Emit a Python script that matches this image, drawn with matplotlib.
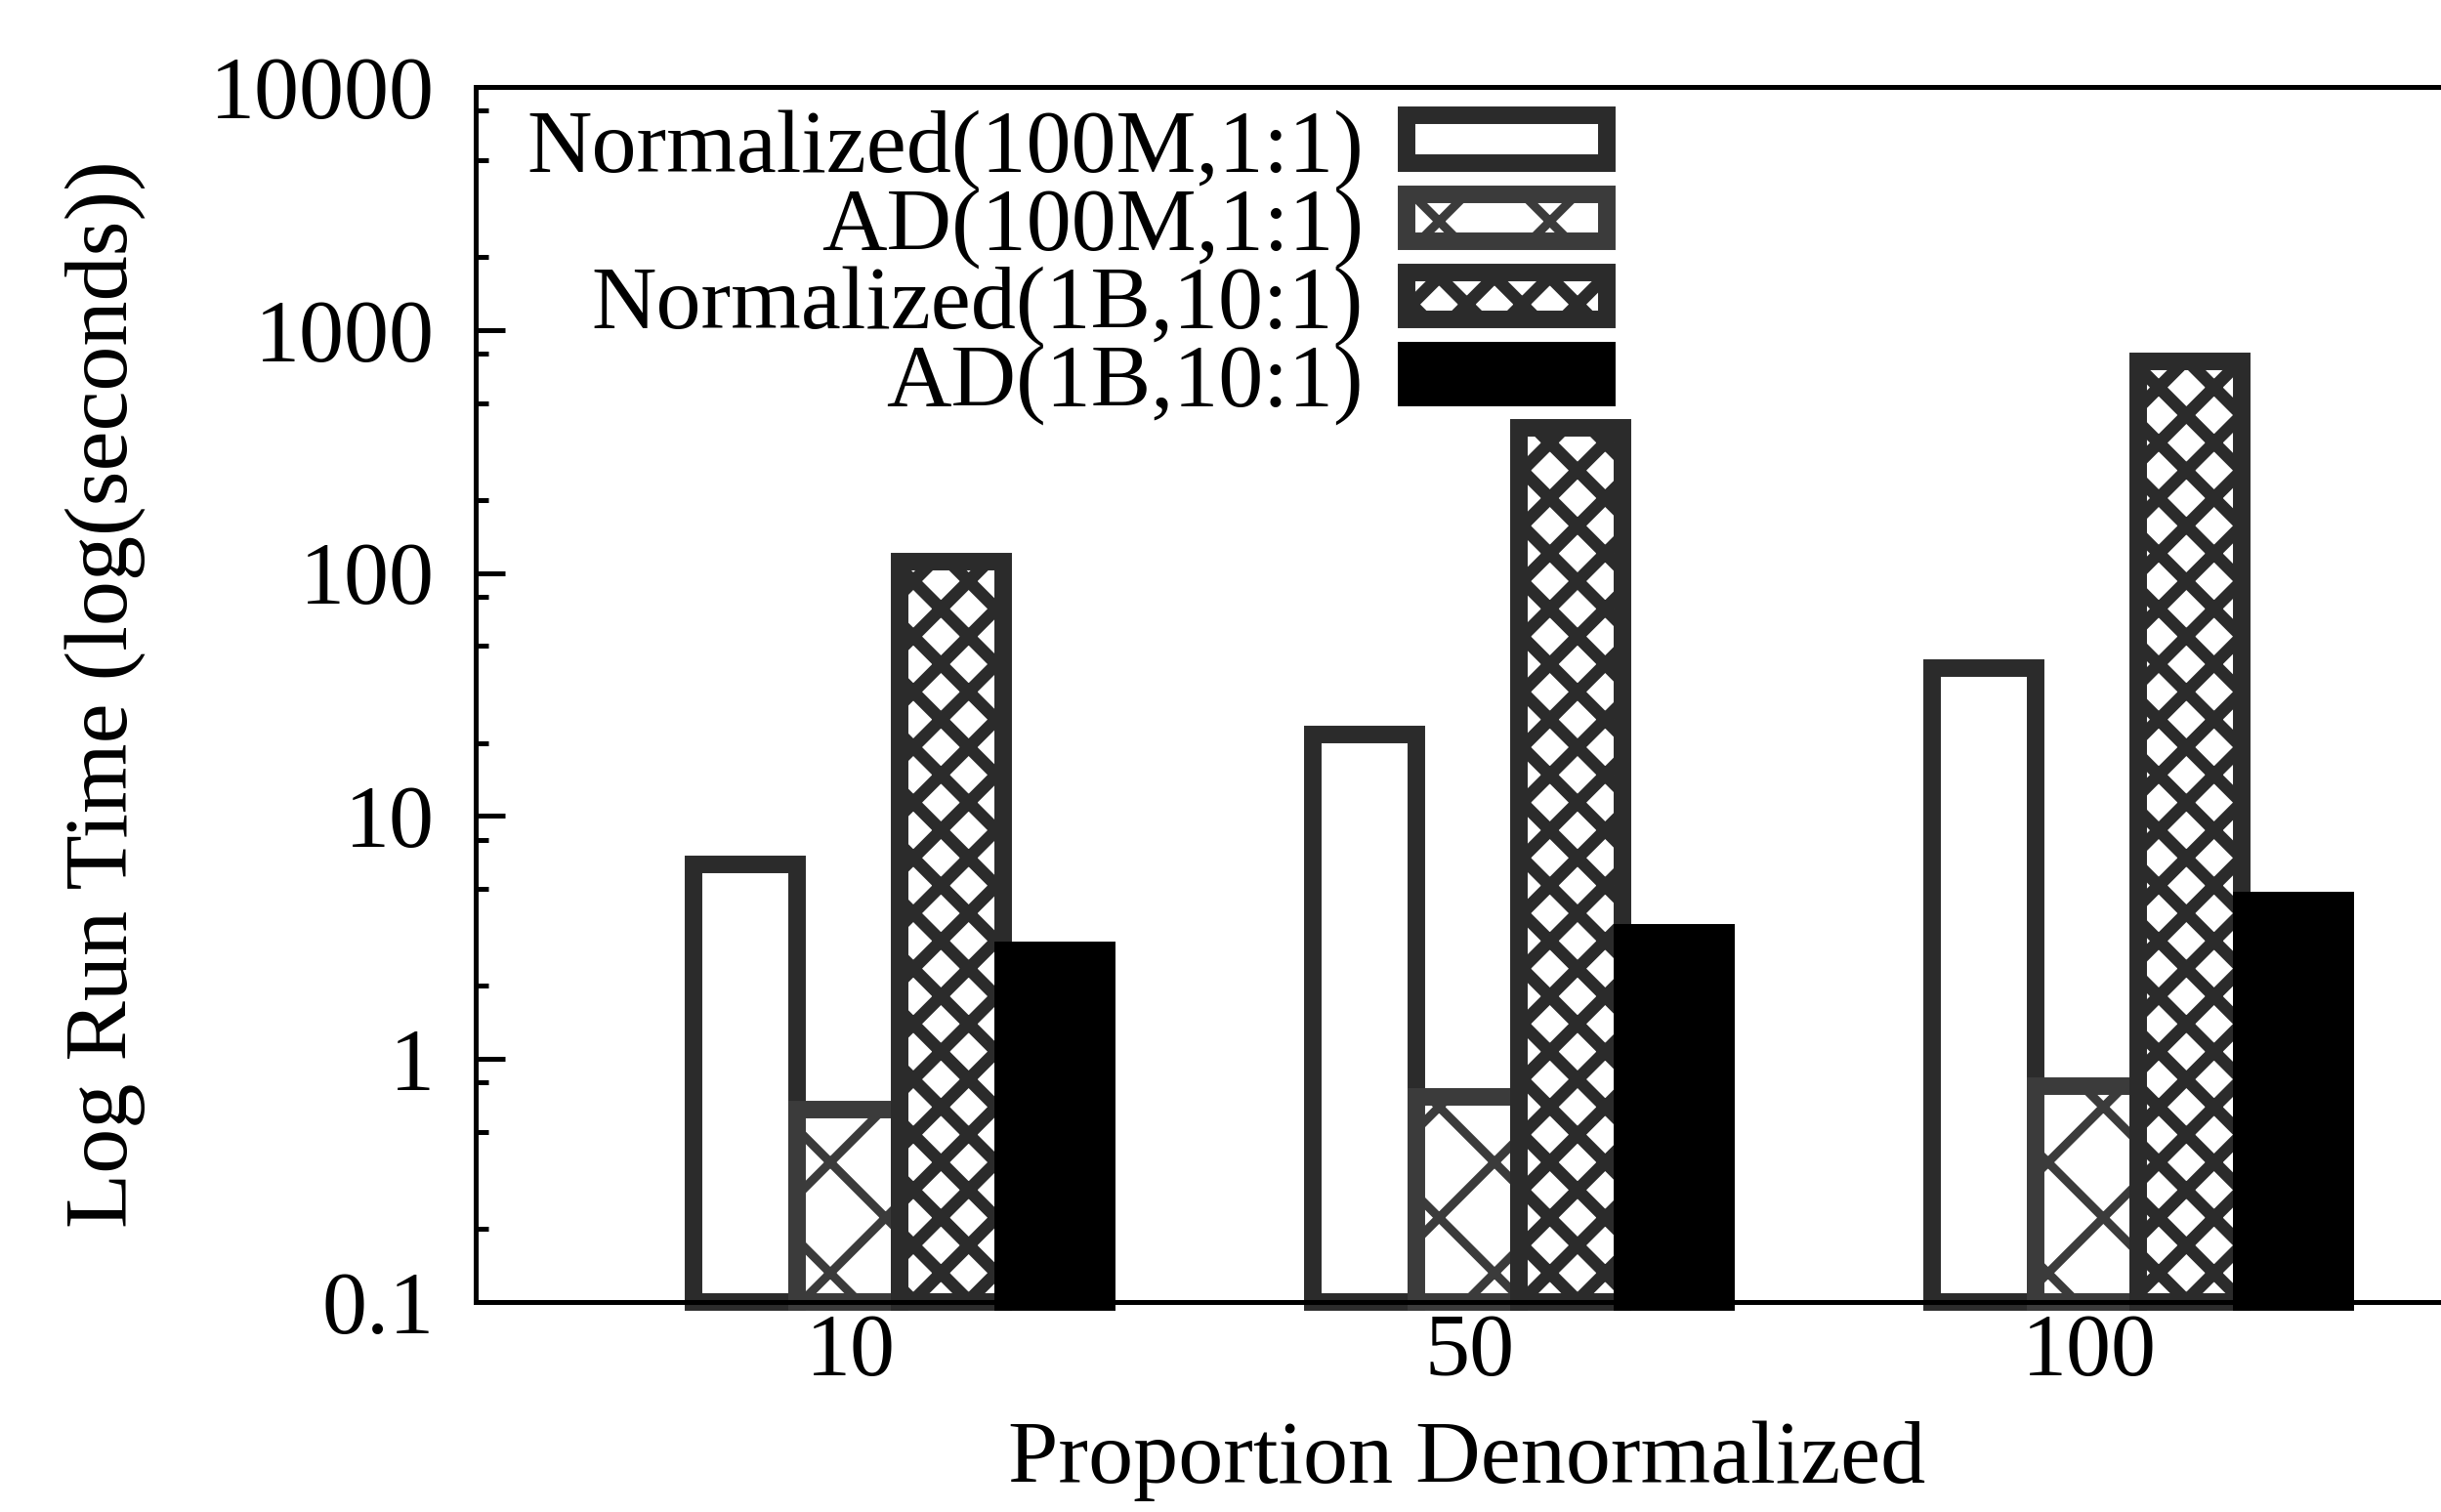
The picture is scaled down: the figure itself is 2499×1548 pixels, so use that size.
import matplotlib
matplotlib.use("Agg")
import matplotlib.pyplot as plt
import numpy as np
from matplotlib.ticker import FixedLocator, NullFormatter

# ---- data ----
groups = ["10", "50", "100"]
series_names = ["Normalized(100M,1:1)", "AD(100M,1:1)", "Normalized(1B,10:1)", "AD(1B,10:1)"]
norm_100m = [6.3, 21.7, 40.7]
ad_100m = [0.62, 0.70, 0.77]
norm_1b = [111, 396, 740]
ad_1b = [2.8, 3.3, 4.5]
ytick_vals = [0.1, 1, 10, 100, 1000, 10000]
ytick_labels = ["0.1", "1", "10", "100", "1000", "10000"]
xlabel = "Proportion Denormalized"
ylabel = "Log Run Time (log(seconds))"

DPI = 340
plt.rcParams['font.family'] = ['Liberation Serif', 'DejaVu Serif']
plt.rcParams['font.size'] = 19.5
plt.rcParams['hatch.linewidth'] = 2.2

fig = plt.figure(figsize=(2499 / DPI, 1548 / DPI), dpi=DPI)
ax = fig.add_axes([487 / 2499, 215 / 1548, 2012 / 2499, 1244 / 1548])
ax.set_yscale('log')

x = np.arange(len(groups))
bw = 0.1668
offsets = [-0.1706, -0.0038, 0.1630, 0.3298]
styles = [
    dict(facecolor='white', edgecolor='#2b2b2b', hatch=None, hlw=1.0),
    dict(facecolor='white', edgecolor='#3b3b3b', hatch='x', hlw=1.9),
    dict(facecolor='white', edgecolor='#2b2b2b', hatch='xx', hlw=2.7),
    dict(facecolor='black', edgecolor='black', hatch=None, hlw=1.0),
]
data = [norm_100m, ad_100m, norm_1b, ad_1b]
base = 0.1
for vals, off, st, name in zip(data, offsets, styles, series_names):
    bars = ax.bar(x + off, np.array(vals) - base, bottom=base, width=bw,
                  facecolor=st['facecolor'], edgecolor=st['edgecolor'],
                  hatch=st['hatch'], linewidth=3.8, label=name,
                  clip_on=False, zorder=2)
    for p in bars:
        if hasattr(p, 'set_hatch_linewidth'):
            p.set_hatch_linewidth(st['hlw'])

ax.set_xlim(-0.6057, 2.568)
ax.set_ylim(0.1, 10000)
ax.set_xticks(x)
ax.set_xticklabels(groups)
ax.tick_params(axis='x', length=0, pad=2.5)

ax.yaxis.set_major_locator(FixedLocator(ytick_vals))
ax.set_yticklabels(ytick_labels)
minor = [v * m for v in ytick_vals[:-1] for m in (2, 5, 8)]
ax.yaxis.set_minor_locator(FixedLocator(minor))
ax.yaxis.set_minor_formatter(NullFormatter())
ax.tick_params(axis='y', which='major', direction='in', length=6.4, width=1.06, pad=9)
ax.tick_params(axis='y', which='minor', direction='in', length=2.8, width=1.06)
ax.tick_params(axis='y', which='both', right=False)

for s in ['left', 'top', 'bottom']:
    ax.spines[s].set_linewidth(1.06)
    ax.spines[s].set_color('black')
    ax.spines[s].set_zorder(5)
ax.spines['right'].set_visible(False)

ax.set_xlabel(xlabel)
ax.set_ylabel(ylabel)
ax.xaxis.set_label_coords(0.5045, -0.0973)
ax.yaxis.set_label_coords(-0.168, 0.5)

leg = ax.legend(loc='upper left', bbox_to_anchor=(539 / 2499, 1 - 112 / 1548),
                bbox_transform=fig.transFigure, frameon=False, markerfirst=False,
                borderpad=0, borderaxespad=0, labelspacing=-0.03,
                handlelength=2.23, handleheight=0.435, handletextpad=0.48)
handles = getattr(leg, 'legend_handles', None) or getattr(leg, 'legendHandles', [])
for h, st in zip(handles, styles):
    if hasattr(h, 'set_hatch_linewidth'):
        h.set_hatch_linewidth(st['hlw'])

fig.savefig("out.png", dpi=DPI)
